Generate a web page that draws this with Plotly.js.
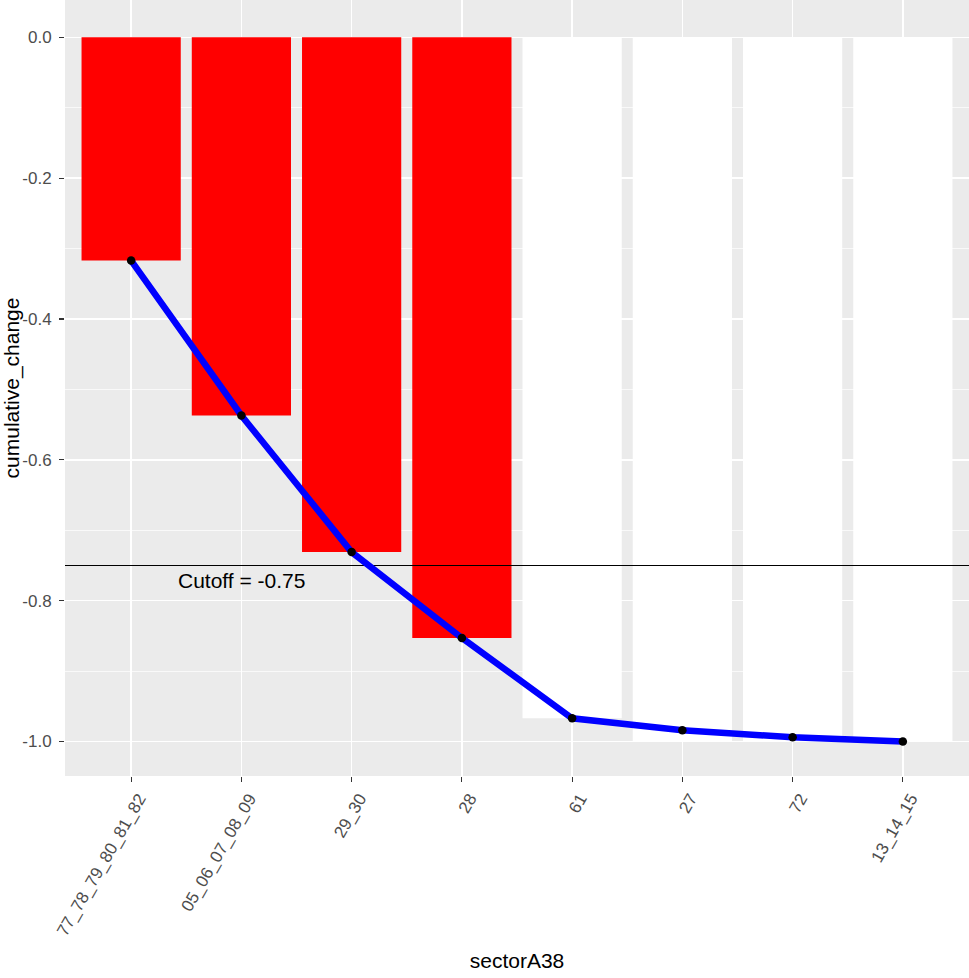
<!DOCTYPE html>
<html>
<head>
<meta charset="utf-8">
<script src="https://cdn.plot.ly/plotly-3.0.1.min.js"></script>
<style>html,body{margin:0;padding:0;background:#fff;}#chart{width:969px;height:978px;}</style>
</head>
<body>
<div id="chart"></div>
<script>
// Data
var categories = ["77_78_79_80_81_82", "05_06_07_08_09", "29_30", "28", "61", "27", "72", "13_14_15"];
var barValues = [-0.317, -0.537, -0.731, -0.853, -0.967, -1.0, -1.0, -1.0];
var lineValues = [-0.317, -0.537, -0.731, -0.853, -0.967, -0.984, -0.994, -1.0];
var barColors = ["#FF0000", "#FF0000", "#FF0000", "#FF0000", "#FFFFFF", "#FFFFFF", "#FFFFFF", "#FFFFFF"];
var cutoff = -0.75;
var cutoffLabel = "Cutoff = -0.75";
var yTickVals = [0, -0.2, -0.4, -0.6, -0.8, -1.0];
var yTickText = ["0.0", "-0.2", "-0.4", "-0.6", "-0.8", "-1.0"];

var idx = categories.map(function (c, i) { return i; });
var xRange = [-0.6, categories.length - 1 + 0.6];

var traces = [
  {
    type: "bar", x: idx, y: barValues, width: 0.9,
    marker: { color: barColors, line: { width: 0 } },
    hoverinfo: "x+y", showlegend: false
  },
  {
    type: "scatter", mode: "lines", x: xRange, y: [cutoff, cutoff],
    line: { color: "#000000", width: 1.1 }, showlegend: false, hoverinfo: "skip"
  },
  {
    type: "scatter", mode: "lines+markers", x: idx, y: lineValues,
    line: { color: "#0000FF", width: 6.5 },
    marker: { color: "#000000", size: 8.5 },
    showlegend: false
  }
];

var layout = {
  width: 969, height: 978,
  margin: { l: 65, r: 0, t: 0, b: 202 },
  paper_bgcolor: "#FFFFFF",
  plot_bgcolor: "#EBEBEB",
  font: { family: "Liberation Sans, Arial, sans-serif", size: 17, color: "#4D4D4D" },
  showlegend: false,
  bargap: 0.1,
  xaxis: {
    range: xRange,
    tickmode: "array", tickvals: idx, ticktext: categories,
    tickangle: -60,
    ticklabelshift: 8,
    ticks: "outside", ticklen: 5, tickwidth: 1.2, tickcolor: "#333333",
    showgrid: true, gridcolor: "#FFFFFF", gridwidth: 1.5,
    zeroline: false, showline: false,
    tickfont: { size: 17, color: "#4D4D4D" },
    title: { text: "sectorA38", font: { size: 21, color: "#000000" }, standoff: 14 }
  },
  yaxis: {
    range: [-1.049, 0.053],
    tickmode: "array", tickvals: yTickVals, ticktext: yTickText,
    ticks: "outside", ticklen: 5, tickwidth: 1.2, tickcolor: "#333333",
    ticklabelstandoff: 4,
    showgrid: true, gridcolor: "#FFFFFF", gridwidth: 1.5,
    minor: { tickmode: "array", tickvals: [-0.1, -0.3, -0.5, -0.7, -0.9], showgrid: true, gridcolor: "#FFFFFF", gridwidth: 0.7, ticks: "" },
    zeroline: false, showline: false,
    tickfont: { size: 17, color: "#4D4D4D" },
    title: { text: "cumulative_change", font: { size: 21, color: "#000000" }, standoff: 4 }
  },
  annotations: [
    {
      x: 1, y: -0.771, xref: "x", yref: "y", text: cutoffLabel, showarrow: false,
      font: { size: 21, color: "#000000" }, xanchor: "center", yanchor: "middle"
    }
  ]
};

Plotly.newPlot("chart", traces, layout, { staticPlot: true, displayModeBar: false });
</script>
</body>
</html>
